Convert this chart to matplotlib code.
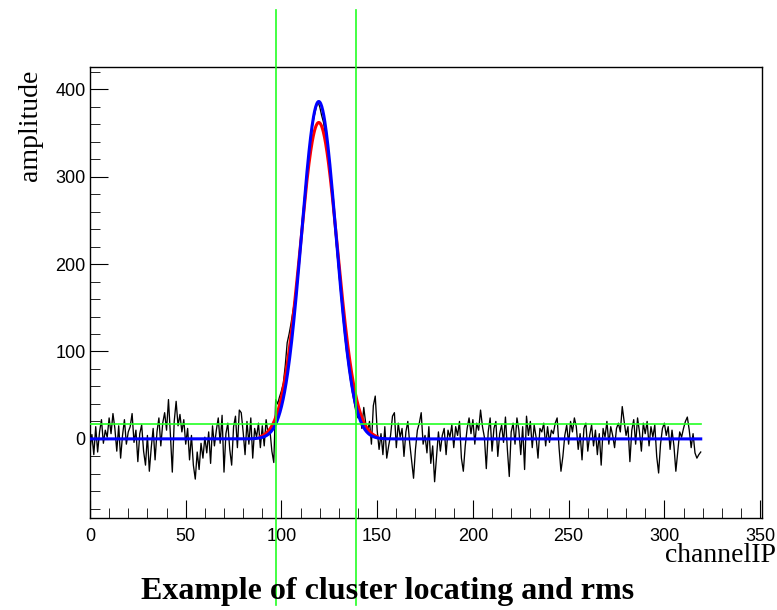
import numpy as np
import matplotlib
matplotlib.use("Agg")
import matplotlib.pyplot as plt

# raw strip amplitudes, one value per channel
amplitude = [
    -12, 5, -18, 14, -15, 8, 22, -5, 10, 2,
    24, 6, 29, 12, -14, 15, -22, 4, 22, -6,
    8, 14, 29, -4, 10, -26, 6, 16, -14, -30,
    4, -37, -10, 12, -24, 8, 24, -8, 18, 30,
    10, 45, 5, -38, 20, 43, 15, 28, 8, 22,
    -6, 12, -24, 4, -30, -46, -15, -35, -5, -22,
    2, -16, 8, -28, 15, -8, 10, 24, -5, 27,
    -38, 6, 18, -12, -30, 14, 26, -10, 33, 30,
    8, -18, 20, -6, 24, -22, 12, 2, 18, -10,
    15, -8, 22, 6, 10, -14, -27,
    45,
    40, 48, 55, 64, 84, 110, 120, 132, 146, 160,
    180, 204, 228, 252, 274, 298, 318, 338, 356, 368,
    378, 386, 380, 370, 362, 346, 330, 312, 290, 264,
    240, 214, 190, 166, 142, 120, 100, 84, 68, 54,
    42, 30, 24, 30, 12, 36, 18,
    8, 20, -6, 38, 49,
    10, -12, 6, -18, 14, -22, -8, 4, 26, 30,
    -10, 18, 2, 12, -20, 8, 20, -5, -25, -45,
    -12, 10, 18, 30, -6, 4, -16, 14, -28, -8,
    -49, -20, 8, -14, 4, 12, -18, 10, 2, 16,
    -10, 14, 4, 20, -22, -37, -8, 12, 24, 6,
    22, -6, 18, 10, 33, 14, 2, -34, 8, 24,
    -14, 12, 20, -20, 6, 16, -4, 25, -12, -43,
    8, 18, -6, 24, 10, -18, 14, -35, 26, 4,
    20, -10, 16, 2, -22, 12, 8, 18, -8, 14,
    -4, 10, 6, 18, 24, -10, -37, -20, 4, 16,
    -6, 20, 8, 24, 14, -12, 6, -24, 12, 18,
    -14, 4, 16, -8, 10, -18, 6, -30, 12, 2,
    20, -6, 14, 4, -10, 12, 18, 8, 37, 20,
    4, 14, -26, 10, 22, -6, 24, 8, -14, 18,
    6, 20, -8, 14, 2, 16, -20, -39, -6, 12,
    18, 4, 14, -12, 10, -8, -37, -14, 8, 2,
    12, 20, 25, 10, -10, 6, -16, -22, -18, -15,
]
channels = np.arange(len(amplitude))

# gaussian fit over the cluster window (const, mean, sigma) and its range
fit_red = (362.0, 119.5, 9.7)
fit_red_range = (89, 150)
# cluster shape across the whole strip
fit_blue = (386.0, 119.5, 9.0)

cluster_edges = [97, 139]   # cluster start / end channels
rms_cut = 17.5              # noise threshold
cut_range = (0, 319)


def gaus(x, p):
    c, m, s = p
    return c * np.exp(-0.5 * ((x - m) / s) ** 2)


plt.rcParams['font.family'] = ['Liberation Sans', 'DejaVu Sans']

fig = plt.figure(figsize=(7.77, 6.10), dpi=100)
ax = fig.add_axes([0.1158, 0.1508, 0.8649, 0.7394])

ax.plot(channels, amplitude, color='black', lw=0.95, zorder=2)

xr = np.linspace(fit_red_range[0], fit_red_range[1], 400)
ax.plot(xr, gaus(xr, fit_red), color='#ff0000', lw=2.2, zorder=3)

xb = np.linspace(0, channels[-1], 1200)
ax.plot(xb, gaus(xb, fit_blue), color='#0000ff', lw=2.2, zorder=4)

# cluster window and threshold
for e in cluster_edges:
    ax.plot([e, e], [-190, 491], color='#22ff22', lw=1.2, zorder=5, clip_on=False)
ax.plot(cut_range, [rms_cut, rms_cut], color='#22ff22', lw=1.2, zorder=5)

ax.set_xlim(0, 351)
ax.set_ylim(-90.5, 425.5)
ax.set_xticks(np.arange(0, 351, 50))
ax.set_xticks(np.arange(0, 351, 10), minor=True)
ax.set_yticks(np.arange(0, 401, 100))
ax.set_yticks(np.arange(-80, 421, 20), minor=True)

ax.tick_params(which='both', direction='in', top=False, right=False, labelsize=13)
ax.tick_params(axis='x', which='major', length=13, pad=7)
ax.tick_params(axis='x', which='minor', length=7)
ax.tick_params(axis='y', which='major', length=13, pad=3)
ax.tick_params(axis='y', which='minor', length=7)
for sp in ax.spines.values():
    sp.set_linewidth(1.0)

fig.text(30 / 777, 1 - 70 / 610, 'amplitude', rotation=90, ha='center', va='top',
         fontsize=20, family='Liberation Serif')
fig.text(776 / 777, 1 - 556 / 610, 'channelIP', ha='right', va='center',
         fontsize=20, family='Liberation Serif')
fig.text(388 / 777, 1 - 592 / 610, 'Example of cluster locating and rms',
         ha='center', va='center', fontsize=23, fontweight='bold',
         family='Liberation Serif')

fig.savefig('out.png', dpi=100)
